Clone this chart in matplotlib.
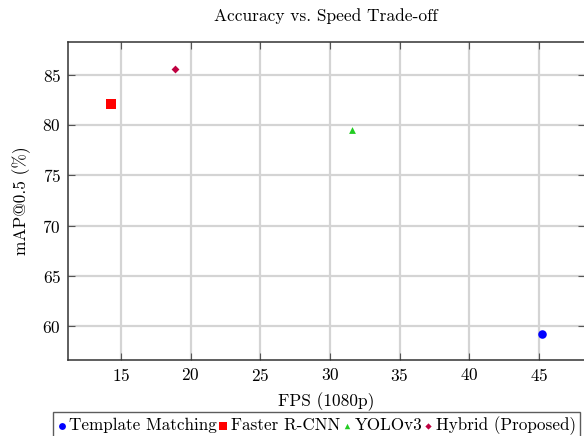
import matplotlib
matplotlib.use("Agg")
import matplotlib.pyplot as plt

plt.rcParams['font.family'] = ['cmr10', 'DejaVu Serif']
plt.rcParams['mathtext.fontset'] = 'cm'
plt.rcParams['axes.formatter.use_mathtext'] = True

# data
methods = ["Template Matching", "Faster R-CNN", "YOLOv3", "Hybrid (Proposed)"]
fps = [45.2, 14.3, 31.6, 18.9]
map50 = [59.3, 82.1, 79.5, 85.6]
colors = ["#0000ff", "#ff0000", "#22cc22", "#bf0040"]
markers = ["o", "s", "^", "D"]
sizes = [38, 46, 24, 16]

fig = plt.figure(figsize=(5.84, 4.36), dpi=100)
ax = fig.add_axes([68/584, 76/436, 517/584, 318/436])

for m, x, y, c, mk, s in zip(methods, fps, map50, colors, markers, sizes):
    ax.scatter([x], [y], c=c, marker=mk, s=s, label=m, zorder=3,
               linewidths=0)

ax.set_xlim(11.2, 48.3)
ax.set_ylim(56.67, 88.23)
ax.set_xticks([15, 20, 25, 30, 35, 40, 45])
ax.set_yticks([60, 65, 70, 75, 80, 85])
ax.grid(True, color="#d4d4d4", linewidth=1.6, zorder=0)
ax.tick_params(direction="in", top=True, right=True, length=5,
               color="#555555", labelsize=12.5, pad=5)
for sp in ax.spines.values():
    sp.set_color("#333333")
    sp.set_linewidth(1.1)

ax.set_xlabel("FPS (1080p)", fontsize=12.5, labelpad=6)
ax.set_ylabel("mAP@0.5 (%)", fontsize=12.5, labelpad=8)
fig.text(326/584, 1 - 16/436, "Accuracy vs. Speed Trade-off",
         ha="center", va="center", fontsize=12.5)

leg = fig.legend(loc="upper left", bbox_to_anchor=(53/584, 1 - 412/436),
                 ncol=4, fontsize=12.3, frameon=True, fancybox=False,
                 edgecolor="#333333", handlelength=0.5, handletextpad=0.2,
                 columnspacing=0.12, borderpad=0.25, borderaxespad=0,
                 markerscale=0.8)
leg.get_frame().set_linewidth(1.0)

fig.savefig("out.png", dpi=100)
